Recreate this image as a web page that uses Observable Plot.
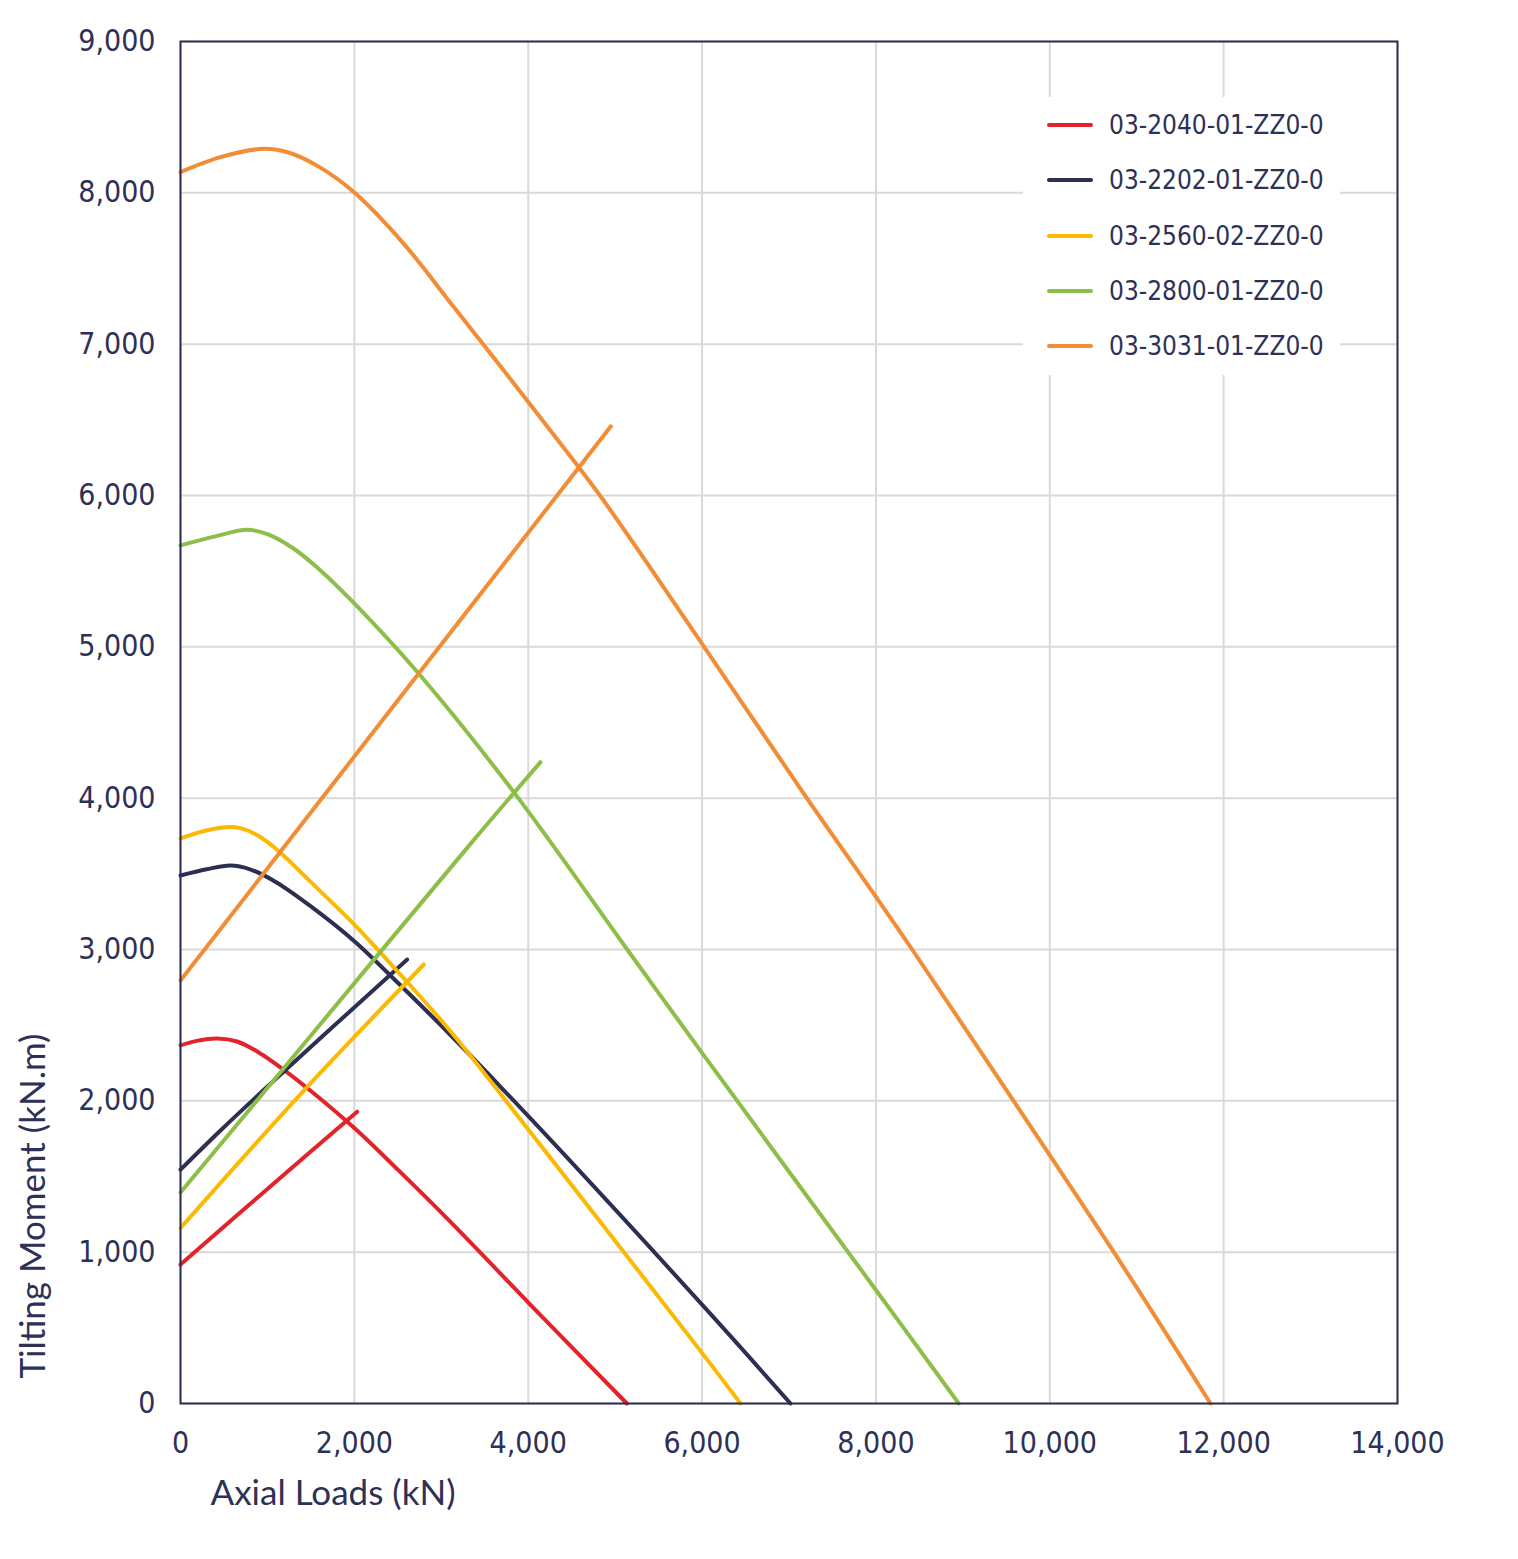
<!DOCTYPE html>
<html>
<head>
<meta charset="utf-8">
<script src="https://cdn.jsdelivr.net/npm/d3@7"></script>
<script src="https://cdn.jsdelivr.net/npm/@observablehq/plot@0.6"></script>
<style>
  html, body { margin: 0; padding: 0; background: #fff; }
  #wrap { position: relative; width: 1518px; height: 1559px; }
  #legend { position: absolute; left: 1023px; top: 97px; width: 317px; height: 278px; background: #fff; }
  .item { position: absolute; left: 0; height: 30px; }
  .sw { position: absolute; left: 24px; width: 46px; height: 4px; border-radius: 2px; }
  .lab { position: absolute; left: 86px; white-space: nowrap; font-family: 'DejaVu Sans Condensed', 'DejaVu Sans', sans-serif; font-stretch: condensed; font-size: 26px; color: #2e3157; line-height: 30px; top: -15px; }
</style>
</head>
<body>
<div id="wrap"><div id="chart"></div><div id="legend"></div></div>
<script>
// ---- Data ----
const seriesNames = ["03-2040-01-ZZ0-0", "03-2202-01-ZZ0-0", "03-2560-02-ZZ0-0", "03-2800-01-ZZ0-0", "03-3031-01-ZZ0-0"];
const seriesColors = ["#e3232c", "#2c2f52", "#fbb900", "#8dbe48", "#f28d36"];

const xTicks = [0, 2000, 4000, 6000, 8000, 10000, 12000, 14000];
const yTicks = [0, 1000, 2000, 3000, 4000, 5000, 6000, 7000, 8000, 9000];

// 03-2040-01-ZZ0-0 (red)
const red_curve_x = [0, 200, 425, 650, 900, 1200, 1500, 2000, 2500, 3106, 4015, 5135];
const red_curve_y = [2366, 2398, 2412, 2392, 2320, 2200, 2065, 1820, 1545, 1200, 659, 0];
const red_line_x = [0, 1000, 2032];
const red_line_y = [918, 1418, 1928];

// 03-2202-01-ZZ0-0 (navy)
const navy_curve_x = [0, 300, 575, 800, 1100, 1500, 2000, 2500, 3106, 4015, 6008, 7017];
const navy_curve_y = [3489, 3530, 3555, 3530, 3445, 3285, 3055, 2780, 2435, 1890, 648, 0];
const navy_line_x = [0, 460, 1035, 2608];
const navy_line_y = [1545, 1804, 2113, 2934];

// 03-2560-02-ZZ0-0 (yellow)
const yellow_curve_x = [0, 250, 518, 700, 900, 1150, 1500, 2000, 2378, 3106, 4015, 6008, 6442];
const yellow_curve_y = [3734, 3780, 3808, 3800, 3750, 3640, 3445, 3165, 2930, 2460, 1800, 328, 0];
const yellow_line_x = [0, 1419, 2799];
const yellow_line_y = [1160, 2068, 2901];

// 03-2800-01-ZZ0-0 (green)
const green_curve_x = [0, 400, 767, 1000, 1300, 1611, 1994, 2722, 3834, 5139, 6008, 8006, 8953];
const green_curve_y = [5670, 5730, 5773, 5745, 5650, 5505, 5290, 4835, 4040, 3000, 2310, 745, 0];
const green_line_x = [0, 1150, 3336, 4141];
const green_line_y = [1394, 2189, 3698, 4238];

// 03-3031-01-ZZ0-0 (orange)
const orange_curve_x = [0, 460, 958, 1250, 1600, 1994, 2569, 3144, 3719, 4295, 4832, 6023, 7205, 8006, 8417, 9587, 10737, 11849];
const orange_curve_y = [8137, 8236, 8291, 8265, 8170, 8005, 7663, 7245, 6826, 6400, 5995, 5000, 4000, 3343, 3000, 1996, 1000, 0];
const orange_line_x = [0, 2722, 4951];
const orange_line_y = [2795, 4810, 6457];

// ---- Build table ----
const parts = [
  [0, "curve", red_curve_x, red_curve_y], [0, "line", red_line_x, red_line_y],
  [1, "curve", navy_curve_x, navy_curve_y], [1, "line", navy_line_x, navy_line_y],
  [2, "curve", yellow_curve_x, yellow_curve_y], [2, "line", yellow_line_x, yellow_line_y],
  [3, "curve", green_curve_x, green_curve_y], [3, "line", green_line_x, green_line_y],
  [4, "curve", orange_curve_x, orange_curve_y], [4, "line", orange_line_x, orange_line_y]
];
const rows = [];
for (const [si, part, xs, ys] of parts) {
  xs.forEach((x, i) => rows.push({series: seriesNames[si], key: seriesNames[si] + "-" + part, x, y: ys[i]}));
}

const ink = "#2e3157";
const tickFont = "'DejaVu Sans Condensed', 'DejaVu Sans', sans-serif";
const labelFont = "Lato, 'Noto Sans', sans-serif";

const chart = Plot.plot({
  width: 1518,
  height: 1559,
  marginLeft: 180,
  marginRight: 121,
  marginTop: 41,
  marginBottom: 156,
  style: {background: "#fff", overflow: "visible"},
  x: {domain: [0, 14000]},
  y: {domain: [0, 9000]},
  color: {domain: seriesNames, range: seriesColors},
  marks: [
    Plot.gridX(xTicks, {stroke: "#d9d9d9", strokeOpacity: 1, strokeWidth: 2}),
    Plot.gridY(yTicks, {stroke: "#d9d9d9", strokeOpacity: 1, strokeWidth: 2}),
    Plot.line(rows, {x: "x", y: "y", z: "key", stroke: "series", strokeWidth: 4, curve: "catmull-rom", strokeLinecap: "round", strokeLinejoin: "round"}),
    Plot.frame({stroke: "#2c2f52", strokeWidth: 2}),
    Plot.axisX(xTicks, {tickSize: 0, tickPadding: 28, fontSize: 30, fill: ink, fontFamily: tickFont, fontStretch: "condensed", tickFormat: d3.format(","), label: null}),
    Plot.axisY(yTicks, {tickSize: 0, tickPadding: 25, fontSize: 30, fill: ink, fontFamily: tickFont, fontStretch: "condensed", tickFormat: d3.format(","), label: null}),
    Plot.text(["Axial Loads (kN)"], {frameAnchor: "bottom-left", dx: 30, dy: 101, text: d => d, textAnchor: "start", fontSize: 35, fill: ink, fontFamily: labelFont}),
    Plot.text(["Tilting Moment (kN.m)"], {frameAnchor: "bottom-left", dx: -136, dy: -25, text: d => d, textAnchor: "start", rotate: -90, fontSize: 35, fill: ink, fontFamily: labelFont})
  ]
});
document.getElementById("chart").appendChild(chart);

// ---- Legend (inside plot, top right) ----
const legend = document.getElementById("legend");
seriesNames.forEach((name, i) => {
  const item = document.createElement("div");
  item.className = "item";
  item.style.top = (28 + i * 55.3) + "px";
  item.innerHTML = `<div class="sw" style="background:${seriesColors[i]};top:-2px"></div><div class="lab">${name}</div>`;
  legend.appendChild(item);
});
</script>
</body>
</html>
